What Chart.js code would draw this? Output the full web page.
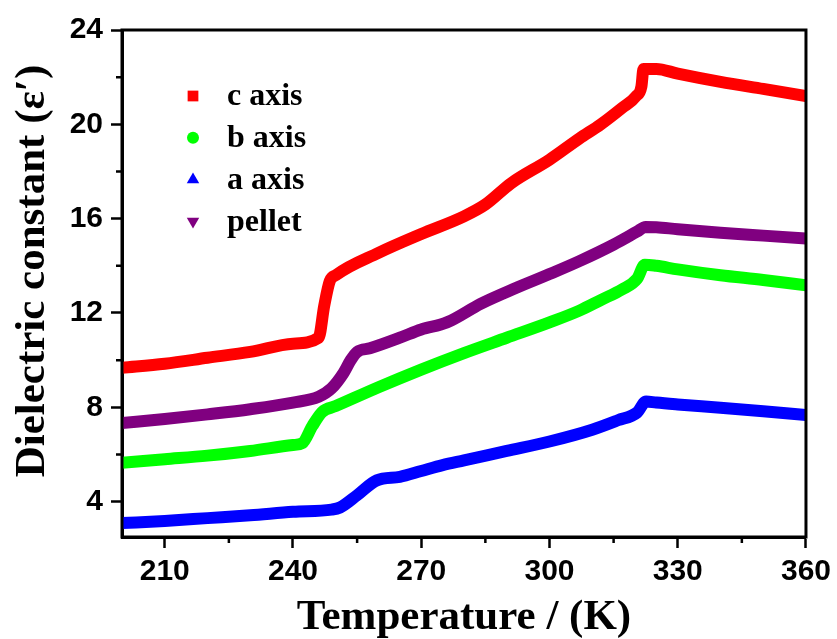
<!DOCTYPE html>
<html>
<head>
<meta charset="utf-8">
<script src="https://cdn.jsdelivr.net/npm/chart.js@4.4.1/dist/chart.umd.min.js"></script>
<style>
html,body{margin:0;padding:0;background:#fff;}
#c{display:block;}
</style>
</head>
<body>
<canvas id="c" width="837" height="639"></canvas>
<script>
// ---- data ----
const seriesLabels = ['c axis', 'b axis', 'a axis', 'pellet'];

const cTemp = [200, 210, 220, 230, 240, 246, 247.3, 248.6, 250, 260, 270, 280, 285, 291, 300, 307, 312, 317, 320.3, 321.5, 322, 325, 330, 340, 350, 360];
const cVal  = [9.68, 9.85, 10.1, 10.35, 10.7, 10.95, 12.3, 13.35, 13.6, 14.55, 15.35, 16.1, 16.6, 17.5, 18.5, 19.4, 20.0, 20.7, 21.2, 21.6, 22.35, 22.35, 22.15, 21.8, 21.5, 21.2];

const bTemp = [200, 210, 220, 230, 240, 242.2, 244.5, 246.8, 250, 260, 270, 280, 290, 300, 307, 312, 317, 320.5, 322.3, 325, 330, 340, 350, 360];
const bVal  = [5.65, 5.8, 5.95, 6.15, 6.4, 6.48, 7.2, 7.8, 8.05, 8.85, 9.6, 10.3, 10.95, 11.6, 12.1, 12.55, 13.0, 13.45, 14.05, 14.0, 13.85, 13.6, 13.4, 13.17];

const aTemp = [200, 210, 220, 230, 240, 249, 251, 255, 259.6, 265, 270, 275, 280, 290, 300, 310, 316, 320.5, 322.6, 325, 330, 340, 350, 360];
const aVal  = [3.09, 3.18, 3.3, 3.42, 3.57, 3.66, 3.75, 4.27, 4.9, 5.05, 5.3, 5.55, 5.75, 6.15, 6.55, 7.05, 7.45, 7.78, 8.25, 8.2, 8.12, 7.98, 7.83, 7.67];

const pTemp = [200, 210, 220, 230, 240, 246, 249, 251.8, 253.5, 255, 258, 265, 270, 276, 284, 292, 300, 307, 315, 320.5, 322.5, 325, 330, 340, 350, 360];
const pVal  = [7.33, 7.5, 7.7, 7.92, 8.2, 8.45, 8.8, 9.45, 10.0, 10.35, 10.5, 10.95, 11.3, 11.6, 12.4, 13.05, 13.65, 14.2, 14.9, 15.45, 15.65, 15.64, 15.55, 15.4, 15.28, 15.16];

const seriesColors = ['#ff0000', '#00ff00', '#0000ff', '#800080'];
const seriesStyles = ['rect', 'circle', 'triangle', 'triangle'];
const seriesRot    = [0, 0, 0, 180];

const xTickVals  = [210, 240, 270, 300, 330, 360];
const xMinorVals = [225, 255, 285, 315, 345];
const yTickVals  = [4, 8, 12, 16, 20, 24];
const yMinorVals = [6, 10, 14, 18, 22];

const xTitle = 'Temperature / (K)';
const yTitle = 'Dielectric constant (\u03B5\u2032)';

// ---- build ----
const temps = [cTemp, bTemp, aTemp, pTemp];
const vals  = [cVal, bVal, aVal, pVal];
const datasets = seriesLabels.map((lab, i) => ({
  label: lab,
  data: temps[i].map((t, k) => ({x: t, y: vals[i][k]})),
  borderColor: seriesColors[i],
  backgroundColor: seriesColors[i],
  pointStyle: seriesStyles[i],
  pointRotation: seriesRot[i]
}));

const serif = '"Liberation Serif", "Times New Roman", serif';
const sans  = '"Liberation Sans", Arial, sans-serif';

const decor = {
  id: 'decor',
  afterDatasetsDraw(chart) {
    const ctx = chart.ctx;
    const a = chart.chartArea;
    const xs = chart.scales.x, ys = chart.scales.y;
    ctx.save();
    // frame
    ctx.strokeStyle = '#000';
    ctx.lineWidth = 3;
    ctx.strokeRect(a.left, a.top, a.right - a.left, a.bottom - a.top);
    // minor ticks
    ctx.lineWidth = 2.5;
    ctx.beginPath();
    xMinorVals.forEach(v => {
      const px = xs.getPixelForValue(v);
      ctx.moveTo(px, a.bottom);
      ctx.lineTo(px, a.bottom + 6);
    });
    yMinorVals.forEach(v => {
      const py = ys.getPixelForValue(v);
      ctx.moveTo(a.left, py);
      ctx.lineTo(a.left - 6, py);
    });
    ctx.stroke();
    // y axis title
    ctx.save();
    ctx.translate(44, 271);
    ctx.rotate(-Math.PI / 2);
    ctx.fillStyle = '#000';
    ctx.font = 'bold 43px ' + serif;
    ctx.textAlign = 'center';
    ctx.textBaseline = 'alphabetic';
    ctx.fillText(yTitle, 0, 0);
    ctx.restore();
    // legend
    const lx = 193, ly0 = 96, ldy = 41.8;
    chart.data.datasets.forEach((ds, i) => {
      const y = ly0 + i * ldy;
      ctx.fillStyle = ds.borderColor;
      ctx.strokeStyle = ds.borderColor;
      const r = ds.pointStyle === 'rect' ? 7.6 : (ds.pointStyle === 'circle' ? 6 : 7.2);
      Chart.helpers.drawPoint(ctx, {pointStyle: ds.pointStyle, rotation: ds.pointRotation, radius: r, borderWidth: 0}, lx, y);
      ctx.fillStyle = '#000';
      ctx.font = 'bold 32px ' + serif;
      ctx.textAlign = 'left';
      ctx.textBaseline = 'middle';
      ctx.fillText(ds.label, 227, y + 1);
    });
    ctx.restore();
  }
};

new Chart(document.getElementById('c'), {
  type: 'line',
  data: {datasets},
  options: {
    responsive: false,
    animation: false,
    events: [],
    layout: {padding: {top: 30, right: 30, left: 0, bottom: 0}},
    elements: {
      point: {radius: 0, hoverRadius: 0},
      line: {borderWidth: 12, cubicInterpolationMode: 'monotone', borderJoinStyle: 'round', borderCapStyle: 'butt', fill: false}
    },
    plugins: {legend: {display: false}, tooltip: {enabled: false}},
    scales: {
      x: {
        type: 'linear', min: 200, max: 360,
        afterBuildTicks: s => { s.ticks = xTickVals.map(v => ({value: v})); },
        afterFit: s => { s.height = 102; },
        grid: {drawOnChartArea: false, drawTicks: true, tickLength: 11, tickWidth: 2.5, tickColor: '#000'},
        border: {display: true, color: '#000', width: 3},
        ticks: {font: {family: sans, weight: 'bold', size: 30}, color: '#000', padding: 6, maxRotation: 0, autoSkip: false},
        title: {display: true, text: xTitle, color: '#000', font: {family: serif, weight: 'bold', size: 43, lineHeight: 1}, padding: {top: 0, bottom: 0}}
      },
      y: {
        type: 'linear', min: 2.5, max: 24,
        afterBuildTicks: s => { s.ticks = yTickVals.map(v => ({value: v})); },
        afterFit: s => { s.width = 122; },
        grid: {drawOnChartArea: false, drawTicks: true, tickLength: 11, tickWidth: 2.5, tickColor: '#000'},
        border: {display: true, color: '#000', width: 3},
        ticks: {font: {family: sans, weight: 'bold', size: 30}, color: '#000', padding: 8, autoSkip: false},
        title: {display: false, text: yTitle}
      }
    }
  },
  plugins: [decor]
});
</script>
</body>
</html>
